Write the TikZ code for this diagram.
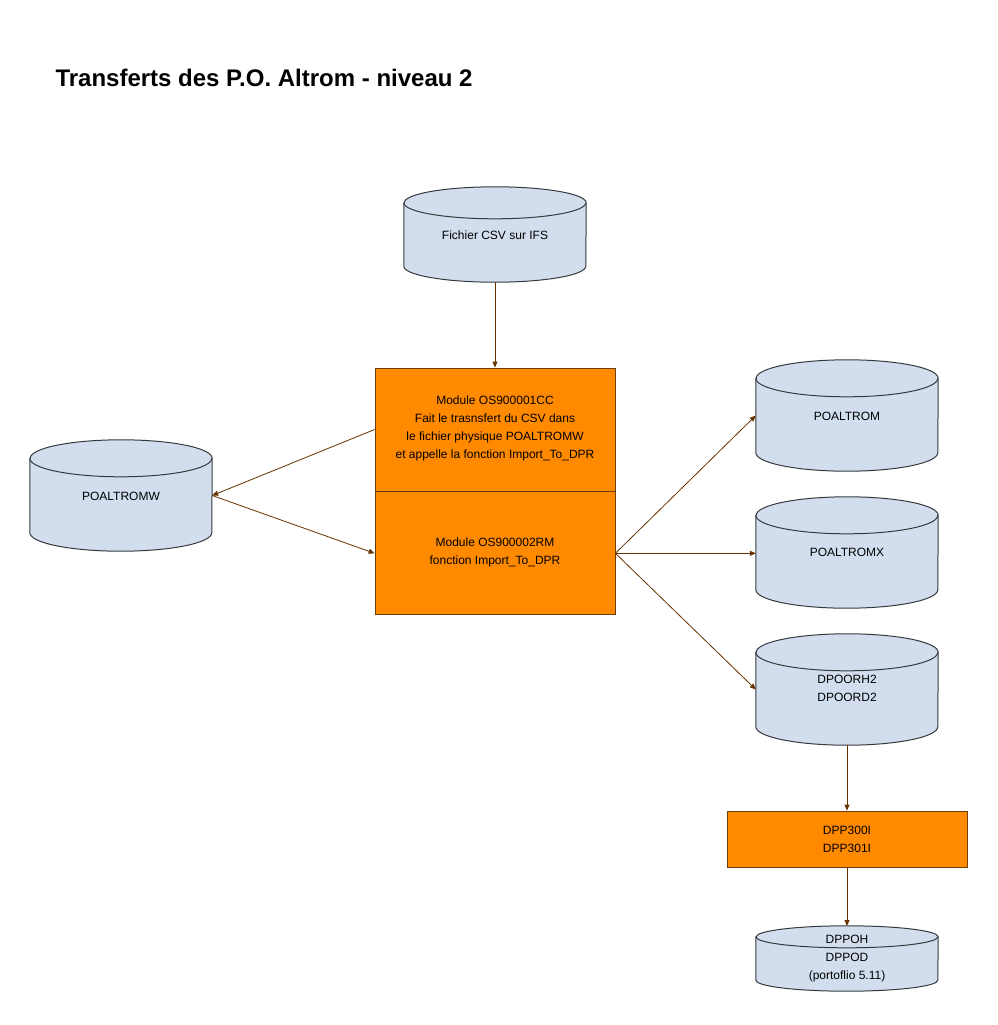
\documentclass[tikz,border=0pt]{standalone}
\usepackage{fontspec}
\setmainfont{Liberation Sans}
\usetikzlibrary{arrows.meta,positioning,calc}
\definecolor{cylblue}{HTML}{D2DEEE}
\definecolor{cylline}{HTML}{36393D}
\definecolor{boxorange}{HTML}{FF8A00}
\definecolor{boxline}{HTML}{6B3E0A}
\definecolor{arrowbrown}{HTML}{663300}
\tikzset{
  cyl/.style={minimum width=182pt, inner sep=0pt, align=center, font=\fontsize{12pt}{18pt}\selectfont},
  box/.style={draw=boxline, fill=boxorange, line width=0.8pt, minimum width=240pt, inner sep=0pt, align=center, font=\fontsize{12pt}{18pt}\selectfont},
  arrow/.style={-{Triangle[length=6pt, width=5pt]}, draw=arrowbrown, line width=0.8pt},
}
% cylinder outline drawn round a named node, #2 = ellipse y radius
\newcommand\dbcyl[2]{%
  \filldraw[fill=cylblue, draw=cylline, line width=1pt]
    (#1.north west) -- (#1.south west)
    arc[start angle=180, end angle=360, x radius=91pt, y radius=#2pt]
    -- (#1.north east)
    arc[start angle=0, end angle=180, x radius=91pt, y radius=#2pt] -- cycle;
  \draw[draw=cylline, line width=1pt] (#1.north west)
    arc[start angle=180, end angle=360, x radius=91pt, y radius=#2pt];
}

\begin{document}
\begin{tikzpicture}[x=1pt, y=-1pt]
  \useasboundingbox (0,0) rectangle (998,1025);

  \node[anchor=west, font=\fontsize{24pt}{28pt}\selectfont\bfseries] (title) at (52,78)
    {Transferts des P.O. Altrom - niveau 2};

  % cylinders (node = inner body, ellipses drawn by \dbcyl)
  \node[cyl, minimum height=63pt] (csv) at (495,234.5) {};
  \node[cyl, minimum height=74pt] (poaltromw) at (121,495.5) {};
  \node[cyl, minimum height=74pt] (poaltrom) at (847,415.5) {};
  \node[cyl, minimum height=74pt] (poaltromx) at (847,552.5) {};
  \node[cyl, minimum height=74pt] (dpoorh) at (847,689.5) {};
  \node[cyl, minimum height=43pt] (dppoh) at (847,958.5) {};
  \dbcyl{csv}{16}
  \dbcyl{poaltromw}{18.5}
  \dbcyl{poaltrom}{18.5}
  \dbcyl{poaltromx}{18.5}
  \dbcyl{dpoorh}{18.5}
  \dbcyl{dppoh}{11}
  \node[cyl] at (495,235) {Fichier CSV sur IFS};
  \node[cyl] at (121,496) {POALTROMW};
  \node[cyl] at (847,416) {POALTROM};
  \node[cyl] at (847,552) {POALTROMX};
  \node[cyl] at (847,688) {DPOORH2\\DPOORD2};
  \node[cyl] at (847,959) {DPPOH\\DPPOD\\(portoflio 5.11)};

  % modules
  \node[box, minimum height=123pt, text depth=4pt] (mod1) at (495,429.5)
    {Module OS900001CC\\Fait le trasnsfert du CSV dans\\le fichier physique POALTROMW\\et appelle la fonction Import\_To\_DPR};
  \node[box, minimum height=123pt, text depth=4pt, below=0pt of mod1] (mod2)
    {Module OS900002RM\\fonction Import\_To\_DPR};
  \node[box, minimum height=56pt] (dpp) at (847,839) {DPP300I\\DPP301I};

  % flows
  \draw[arrow] (csv.south |- 0,282) -- (mod1.north);
  \draw[arrow] (mod1.west) -- (poaltromw.east);
  \draw[arrow] (poaltromw.east) -- (mod2.west);
  \draw[arrow] (mod2.east) -- (poaltrom.west);
  \draw[arrow] (mod2.east) -- (mod2.east -| poaltromx.west);
  \draw[arrow] (mod2.east) -- (dpoorh.west);
  \draw[arrow] (dpoorh.south |- 0,745) -- (dpp.north);
  \draw[arrow] (dpp.south) -- (dppoh.north |- 0,926);
\end{tikzpicture}
\end{document}
